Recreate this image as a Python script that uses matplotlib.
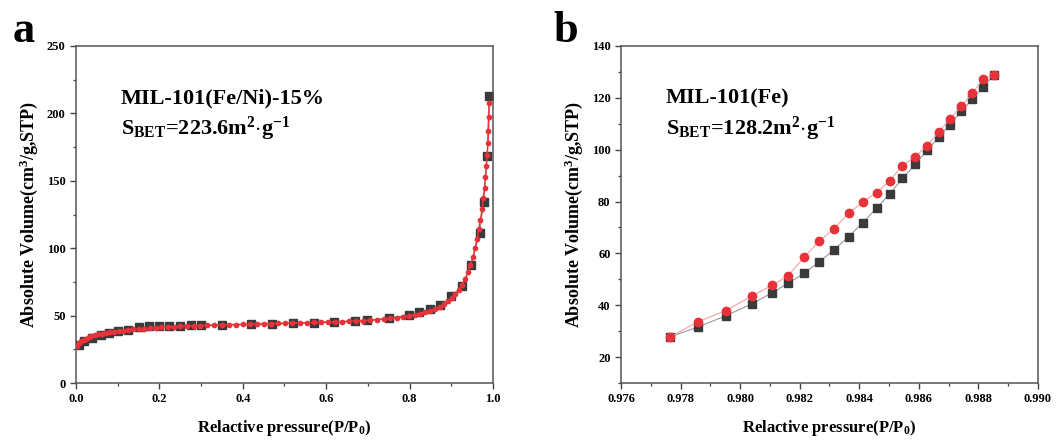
import matplotlib
matplotlib.use("Agg")
import matplotlib.pyplot as plt
from matplotlib.ticker import MultipleLocator

plt.rcParams['font.family'] = ['Liberation Serif', 'DejaVu Serif']
plt.rcParams['font.weight'] = 'bold'
plt.rcParams['mathtext.fontset'] = 'custom'
plt.rcParams['mathtext.rm'] = 'Liberation Serif:bold'
plt.rcParams['mathtext.it'] = 'Liberation Serif:bold'
plt.rcParams['mathtext.bf'] = 'Liberation Serif:bold'

# ---------------- Panel a data: MIL-101(Fe/Ni)-15% ----------------
a_black_p = [0.006, 0.018, 0.039, 0.059, 0.080, 0.100, 0.124, 0.150, 0.174, 0.199,
             0.224, 0.250, 0.275, 0.299, 0.350, 0.419, 0.470, 0.520, 0.570, 0.619,
             0.669, 0.699, 0.750, 0.798, 0.823, 0.850, 0.874, 0.899, 0.926, 0.948,
             0.968, 0.978, 0.986, 0.990]
a_black_v = [28.4, 30.9, 33.4, 35.8, 37.1, 38.3, 39.5, 41.3, 42.0, 42.2,
             42.5, 42.5, 42.7, 42.7, 43.0, 43.5, 43.7, 44.2, 44.5, 45.0,
             45.7, 46.4, 48.2, 50.6, 52.4, 54.8, 58.1, 64.2, 72.1, 87.7,
             111.2, 134.6, 168.5, 212.9]

a_red_p = [0.003, 0.008, 0.013, 0.018, 0.024, 0.030, 0.037, 0.045, 0.053, 0.062,
           0.071, 0.081, 0.091, 0.102, 0.113, 0.125, 0.137, 0.150, 0.163, 0.177,
           0.191, 0.205, 0.220, 0.235, 0.250, 0.266, 0.282, 0.298, 0.315, 0.332,
           0.349, 0.366, 0.383, 0.400, 0.417, 0.434, 0.451, 0.468, 0.485, 0.502,
           0.519, 0.536, 0.553, 0.570, 0.587, 0.604, 0.621, 0.638, 0.655, 0.672,
           0.689, 0.706, 0.722, 0.738, 0.754, 0.769, 0.784, 0.798, 0.812, 0.825,
           0.838, 0.850, 0.861, 0.872, 0.882, 0.892, 0.901, 0.910, 0.918, 0.926,
           0.933, 0.940, 0.946, 0.952, 0.957, 0.962, 0.966, 0.970, 0.974, 0.977,
           0.980, 0.982, 0.984, 0.986, 0.988, 0.989, 0.990, 0.991]
a_red_v = [27.5, 29.5, 31.0, 32.0, 33.0, 33.8, 34.6, 35.3, 36.0, 36.6,
           37.1, 37.6, 38.0, 38.5, 38.9, 39.3, 39.7, 40.1, 40.4, 40.7,
           41.0, 41.3, 41.5, 41.8, 42.0, 42.2, 42.4, 42.6, 42.8, 42.9,
           43.1, 43.2, 43.4, 43.5, 43.6, 43.8, 43.9, 44.0, 44.2, 44.3,
           44.4, 44.6, 44.7, 44.9, 45.0, 45.2, 45.4, 45.6, 45.8, 46.0,
           46.3, 46.6, 47.0, 47.4, 47.9, 48.4, 49.0, 49.7, 50.5, 51.4,
           52.4, 53.6, 55.0, 56.6, 58.4, 60.6, 63.0, 65.8, 69.0, 72.8,
           77.0, 82.0, 87.5, 93.5, 100.0, 107.0, 114.0, 121.0, 129.0, 137.0,
           145.0, 153.0, 161.0, 169.0, 178.0, 187.0, 197.0, 208.0]

# ---------------- Panel b data: MIL-101(Fe) ----------------
b_p = [0.97765, 0.97860, 0.97951, 0.98039, 0.98107, 0.98161, 0.98215, 0.98266,
       0.98315, 0.98364, 0.98411, 0.98458, 0.98503, 0.98545, 0.98588, 0.98628,
       0.98667, 0.98704, 0.98743, 0.98780, 0.98816, 0.98851]
b_red_v = [27.8, 33.7, 37.9, 43.5, 47.7, 51.4, 58.5, 64.8, 69.5, 75.4, 79.8,
           83.4, 88.1, 93.9, 97.3, 101.6, 106.8, 111.9, 116.8, 121.8, 127.3, 128.7]
b_black_v = [27.8, 31.7, 35.9, 40.5, 44.8, 48.5, 52.3, 56.8, 61.4, 66.4, 71.8,
             77.4, 83.1, 88.9, 94.3, 99.7, 104.8, 109.7, 114.8, 119.6, 124.1, 128.7]

BLACK = '#3a3a3a'
RED = '#e8323a'

fig = plt.figure(figsize=(10.57, 4.41), dpi=100)
axa = fig.add_axes([0.0719, 0.1315, 0.3945, 0.7642])
axb = fig.add_axes([0.5875, 0.1315, 0.3945, 0.7642])


def style(ax):
    for s in ax.spines.values():
        s.set_color('#555555')
        s.set_linewidth(1.1)
    ax.tick_params(which='major', direction='out', length=4.5, width=1, color='#444444',
                   labelsize=9, top=False, right=False, pad=3)
    ax.tick_params(which='minor', direction='out', length=2.5, width=0.9, color='#444444',
                   top=False, right=False)
    for lab in ax.get_xticklabels() + ax.get_yticklabels():
        lab.set_fontweight('bold')
    ax.set_xlabel('Relactive pressure(P/P$_0$)', fontsize=12, fontweight='bold', labelpad=9)
    ax.set_ylabel('Absolute Volume(cm$^3$/g,STP)', fontsize=13, fontweight='bold', labelpad=5)


# Panel a
axa.plot(a_black_p, a_black_v, color='#888888', lw=0.6, marker='s', ms=5.4,
         mfc=BLACK, mec=BLACK, zorder=2)
axa.plot(a_red_p, a_red_v, color=RED, lw=1.1, marker='o', ms=3.1,
         mfc=RED, mec=RED, zorder=3)
axa.set_xlim(0, 1.0)
axa.set_ylim(0, 250)
axa.xaxis.set_major_locator(MultipleLocator(0.2))
axa.xaxis.set_minor_locator(MultipleLocator(0.1))
axa.yaxis.set_major_locator(MultipleLocator(50))
axa.yaxis.set_minor_locator(MultipleLocator(25))
axa.set_xticks([0, 0.2, 0.4, 0.6, 0.8, 1.0])
axa.set_xticklabels(['0.0', '0.2', '0.4', '0.6', '0.8', '1.0'])
style(axa)
axa.text(0.108, 0.845, 'MIL-101(Fe/Ni)-15%', transform=axa.transAxes,
         fontsize=16, fontweight='bold', va='center', ha='left')
axa.text(0.108, 0.755, r'S$_{\mathrm{BET}}$=223.6m$^{2}$$\cdot$g$^{-1}$', transform=axa.transAxes,
         fontsize=16, fontweight='bold', va='center', ha='left')

# Panel b
axb.plot(b_p, b_black_v, color='#999999', lw=0.8, marker='s', ms=5.3,
         mfc=BLACK, mec=BLACK, zorder=2)
axb.plot(b_p, b_red_v, color='#f4a0a0', lw=0.8, marker='o', ms=6,
         mfc=RED, mec=RED, zorder=3)
axb.set_xlim(0.976, 0.990)
axb.set_ylim(10, 140)
axb.xaxis.set_major_locator(MultipleLocator(0.002))
axb.xaxis.set_minor_locator(MultipleLocator(0.001))
axb.yaxis.set_major_locator(MultipleLocator(20))
axb.yaxis.set_minor_locator(MultipleLocator(10))
axb.set_xticks([0.976, 0.978, 0.980, 0.982, 0.984, 0.986, 0.988, 0.990])
axb.set_xticklabels(['0.976', '0.978', '0.980', '0.982', '0.984', '0.986', '0.988', '0.990'])
axb.set_yticks([20, 40, 60, 80, 100, 120, 140])
style(axb)
axb.text(0.108, 0.845, 'MIL-101(Fe)', transform=axb.transAxes,
         fontsize=16, fontweight='bold', va='center', ha='left')
axb.text(0.108, 0.755, r'S$_{\mathrm{BET}}$=128.2m$^{2}$$\cdot$g$^{-1}$', transform=axb.transAxes,
         fontsize=16, fontweight='bold', va='center', ha='left')

# Panel letters
fig.text(0.012, 0.905, 'a', fontsize=32, fontweight='bold', ha='left', va='baseline')
fig.text(0.524, 0.905, 'b', fontsize=32, fontweight='bold', ha='left', va='baseline')

fig.savefig('out.png', dpi=100)
